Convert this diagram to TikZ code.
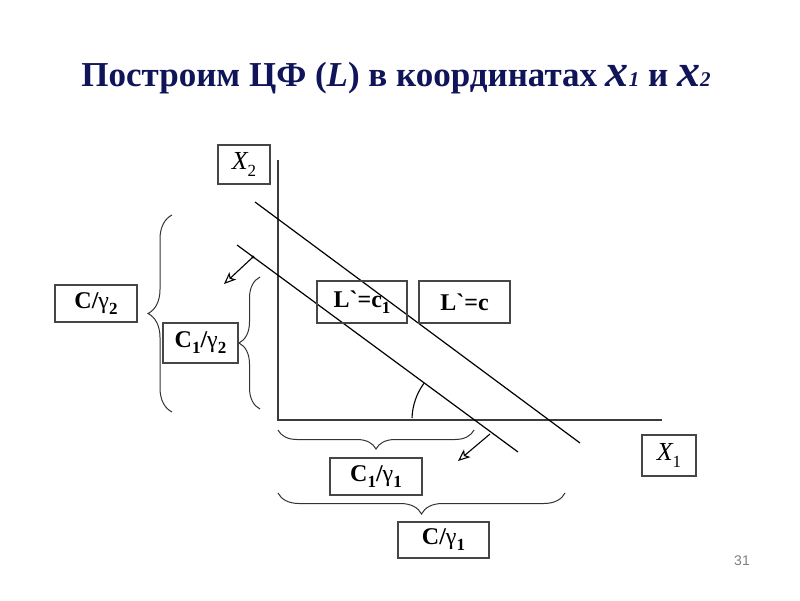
\documentclass[tikz,border=0pt]{standalone}
\usepackage{fontspec}
\setmainfont{Liberation Serif}[Ligatures=TeXOff]
\newfontfamily\numfont{Liberation Sans}
\usetikzlibrary{decorations.pathreplacing,arrows.meta}
\definecolor{titleblue}{RGB}{16,20,88}
\definecolor{axisgray}{RGB}{60,60,60}
\definecolor{boxgray}{RGB}{70,70,70}
\newcommand{\sbs}[1]{\raisebox{-0.55ex}{\fontsize{17}{17}\selectfont #1}}
\newcommand{\gam}{{\fontseries{m}\selectfont γ}}
\begin{document}
\begin{tikzpicture}[x=1pt,y=-1pt,
  lbl/.style={draw=boxgray, line width=1.1pt, inner sep=0pt, font=\fontsize{24}{24}\selectfont\bfseries},
  axisline/.style={draw=axisgray, line width=1.8pt},
  levline/.style={draw=black, line width=1.2pt},
  brc/.style={draw=black!80, line width=1pt, decorate, decoration={brace, amplitude=#1}},
  normarrow/.style={draw=black, line width=1.1pt, -{Stealth[open, length=12pt, width=10pt, inset=3pt]}}
]
\useasboundingbox (0,0) rectangle (800,600);

% title
\node[anchor=base, text=titleblue, font=\fontsize{35}{35}\selectfont\bfseries, inner sep=0pt] (title) at (396,86)
 {Построим ЦФ (\textit{L}) в координатах \textit{\fontsize{46}{46}\selectfont x}{\itshape\fontsize{21}{21}\selectfont 1} и \textit{\fontsize{46}{46}\selectfont x}{\itshape\fontsize{21}{21}\selectfont 2}};

% axes
\coordinate (O) at (278,420);
\coordinate (ytop) at (278,160);
\coordinate (xend) at (662,420);
\draw[axisline] (ytop) -- (O) -- (xend);

% level lines
\coordinate (cA) at (255,202);
\coordinate (cB) at (580,443);
\coordinate (c1A) at (237,245);
\coordinate (c1B) at (518,452);
\draw[levline] (cA) -- (cB);
\draw[levline] (c1A) -- (c1B);

% normal arrows
\coordinate (n1s) at (253,257);
\coordinate (n1e) at (224,284);
\coordinate (n2s) at (490,434);
\coordinate (n2e) at (458,461);
\fill (n1s) circle (1.6);
\draw[normarrow] (n1s) -- (n1e);
\draw[normarrow] (n2s) -- (n2e);

% angle arc
\coordinate (cross) at (475,420);
\draw[black, line width=1.1pt] (cross) ++(-63,-2) arc[start angle=182, end angle=216, radius=63];

% braces
\draw[brc=24] (172,412) -- (172,215);
\draw[brc=21] (260,409) -- (260,277);
\draw[brc=19] (474,430) -- (278,430);
\draw[brc=21] (565,493) -- (278,493);

% boxes
\node[lbl, minimum width=52, minimum height=39, font=\fontsize{26}{26}\selectfont\itshape] (X2) at (244,164.5) {X\sbs{\upshape 2}};
\node[lbl, minimum width=54, minimum height=41, font=\fontsize{26}{26}\selectfont\itshape] (X1) at (669,455.5) {X\sbs{\upshape 1}};
\node[lbl, minimum width=82, minimum height=37] (Cg2) at (96,303.5) {C/\gam\sbs{2}\hspace{4pt}};
\node[lbl, minimum width=75, minimum height=40] (C1g2) at (200.5,343) {C\sbs{1}/\gam\sbs{2}};
\node[lbl, minimum width=90, minimum height=42] (Lc1) at (362,302) {L\char"0060=c\sbs{1}};
\node[lbl, minimum width=91, minimum height=42] (Lc) at (464.5,302) {L\char"0060=c\hspace{20pt}};
\node[lbl, minimum width=92, minimum height=37] (C1g1) at (376,476.5) {C\sbs{1}/\gam\sbs{1}\hspace{6pt}};
\node[lbl, minimum width=91, minimum height=36] (Cg1) at (443.5,540) {C/\gam\sbs{1}\hspace{10pt}};

% page number
\node[text=gray, font=\numfont\fontsize{14}{14}\selectfont, inner sep=0pt] (pnum) at (742,561) {31};
\end{tikzpicture}
\end{document}
